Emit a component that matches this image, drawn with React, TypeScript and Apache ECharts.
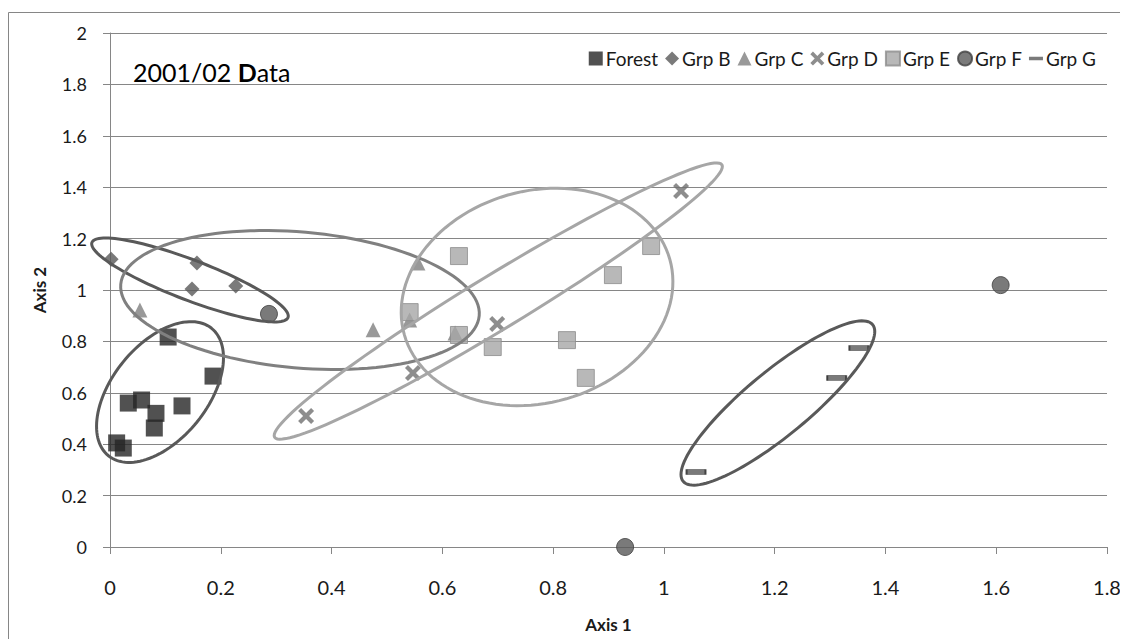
import React, { useEffect, useRef } from "react";
import * as echarts from "echarts";

// Ordination scores (Axis 1, Axis 2) per group
const forest = [
  [0.012, 0.405], [0.024, 0.385], [0.033, 0.56], [0.057, 0.572], [0.083, 0.52],
  [0.08, 0.463], [0.13, 0.549], [0.105, 0.817], [0.186, 0.665],
];
const grpB = [[0.002, 1.12], [0.157, 1.105], [0.148, 1.004], [0.227, 1.016]];
const grpC = [[0.054, 0.922], [0.475, 0.845], [0.541, 0.883], [0.556, 1.105], [0.623, 0.833]];
const grpD = [[0.354, 0.51], [0.547, 0.677], [0.699, 0.868], [1.031, 1.385]];
const grpE = [
  [0.63, 1.132], [0.541, 0.914], [0.63, 0.825], [0.691, 0.778],
  [0.825, 0.805], [0.859, 0.658], [0.908, 1.058], [0.977, 1.171],
];
const grpF = [[0.287, 0.907], [1.608, 1.019], [0.93, 0.0]];
const grpG = [[1.058, 0.292], [1.312, 0.658], [1.352, 0.774]];

// Group envelopes: centre (x, y) and two conjugate semi-diameters (ux, uy), (vx, vy) in axis units
const ellipseForest = [0.0903, 0.603, 0.0931, 0.2479, -0.0668, 0.1165];
const ellipseB = [0.1444, 1.039, 0.177, -0.146, 0.013, 0.073];
const ellipseC = [0.343, 0.961, 0.3236, -0.0611, 0.0107, 0.2634];
const ellipseD = [0.701, 0.957, 0.4038, 0.53, -0.0253, 0.0898];
const ellipseE = [0.771, 0.973, 0.2395, 0.1479, -0.0528, 0.3964];
const ellipseG = [1.2058, 0.5603, 0.171, 0.305, -0.0368, 0.0958];
const ellipseColors = ["#595959", "#595959", "#808080", "#a6a6a6", "#a6a6a6", "#595959"];

const xRange = [0, 1.8];
const yRange = [0, 2];
const tickStep = 0.2;

const FONT = "Lato, 'Open Sans', sans-serif";
const CROSS = "path://M0,3L3,0L8,5L13,0L16,3L11,8L16,13L13,16L8,11L3,16L0,13L5,8Z";
const DASH = "path://M0,0H20V5H0Z";

export default function App() {
  const ref = useRef<HTMLDivElement>(null);

  useEffect(() => {
    if (!ref.current) return;
    const chart = echarts.init(ref.current, undefined, { renderer: "svg" });

    const ellipses = [ellipseForest, ellipseB, ellipseC, ellipseD, ellipseE, ellipseG];

    const scatter = (name: string, data: number[][], extra: any) => ({
      name,
      type: "scatter",
      data,
      z: 3,
      ...extra,
    });

    chart.setOption({
      animation: false,
      backgroundColor: "#ffffff",
      title: {
        text: "2001/02 {b|D}ata",
        left: 120,
        top: 46,
        textStyle: {
          fontFamily: FONT,
          fontSize: 25,
          fontWeight: "normal",
          color: "#000",
          rich: { b: { fontFamily: FONT, fontSize: 25, fontWeight: "bold", color: "#000" } },
        },
      },
      legend: {
        right: 27,
        top: 36,
        itemWidth: 14,
        itemHeight: 14,
        itemGap: 7,
        textStyle: { fontFamily: FONT, fontSize: 19, color: "#1a1a1a", padding: [0, 0, 0, -2] },
        data: [
          { name: "Forest" },
          { name: "Grp B" },
          { name: "Grp C" },
          { name: "Grp D" },
          { name: "Grp E" },
          { name: "Grp F" },
          { name: "Grp G", icon: DASH, itemStyle: { borderWidth: 0 } },
        ],
      },
      graphic: [
        {
          type: "rect",
          shape: { x: 0.5, y: 4.5, width: 1300, height: 900 },
          style: { fill: "none", stroke: "#868686", lineWidth: 1 },
          silent: true,
        },
      ],
      grid: { left: 102, top: 25, right: 21, bottom: 92 },
      xAxis: {
        type: "value",
        min: xRange[0],
        max: xRange[1],
        interval: tickStep,
        name: "Axis 1",
        nameLocation: "middle",
        nameGap: 69,
        nameTextStyle: { fontFamily: FONT, fontSize: 17, fontWeight: "bold", color: "#1a1a1a" },
        axisLine: { show: true, lineStyle: { color: "#868686", width: 1 } },
        axisTick: { show: true, length: 7, lineStyle: { color: "#868686" } },
        axisLabel: { margin: 30, fontFamily: FONT, fontSize: 20, color: "#1a1a1a" },
        splitLine: { show: false },
      },
      yAxis: {
        type: "value",
        min: yRange[0],
        max: yRange[1],
        interval: tickStep,
        name: "Axis 2",
        nameLocation: "middle",
        nameGap: 62,
        nameTextStyle: { fontFamily: FONT, fontSize: 17, fontWeight: "bold", color: "#1a1a1a" },
        axisLine: { show: true, lineStyle: { color: "#868686", width: 1 } },
        axisTick: { show: true, length: 7, lineStyle: { color: "#868686" } },
        axisLabel: { margin: 23, fontFamily: FONT, fontSize: 18, color: "#1a1a1a" },
        splitLine: { show: true, lineStyle: { color: "#868686", width: 1 } },
      },
      series: [
        scatter("Forest", forest, {
          symbol: "rect",
          symbolSize: 17,
          itemStyle: { color: "#262626" },
        }),
        scatter("Grp B", grpB, {
          symbol: "diamond",
          symbolSize: 15,
          itemStyle: { color: "#595959" },
        }),
        scatter("Grp C", grpC, {
          symbol: "triangle",
          symbolSize: 15,
          itemStyle: { color: "#7f7f7f" },
        }),
        scatter("Grp D", grpD, {
          symbol: CROSS,
          symbolSize: 16,
          itemStyle: { color: "#707070" },
        }),
        scatter("Grp E", grpE, {
          symbol: "rect",
          symbolSize: 17,
          itemStyle: { color: "#a6a6a6", borderColor: "#8c8c8c", borderWidth: 1 },
        }),
        scatter("Grp F", grpF, {
          symbol: "circle",
          symbolSize: 17,
          itemStyle: { color: "#595959", borderColor: "#404040", borderWidth: 1 },
        }),
        scatter("Grp G", grpG, {
          symbol: DASH,
          symbolSize: [19, 5],
          symbolKeepAspect: false,
          itemStyle: { color: "#595959", borderColor: "#262626", borderWidth: 1 },
        }),
        {
          name: "envelopes",
          type: "custom",
          z: 4,
          silent: true,
          clip: false,
          encode: { x: 0, y: 1 },
          data: ellipses.map((e, i) => [...e, i]),
          renderItem: (_params: any, api: any) => {
            const cx = api.value(0), cy = api.value(1);
            const ux = api.value(2), uy = api.value(3);
            const vx = api.value(4), vy = api.value(5);
            const idx = api.value(6);
            const pts: number[][] = [];
            const n = 120;
            for (let k = 0; k < n; k++) {
              const t = (k / n) * Math.PI * 2;
              const c = Math.cos(t), s = Math.sin(t);
              pts.push(api.coord([cx + ux * c + vx * s, cy + uy * c + vy * s]));
            }
            return {
              type: "polygon",
              shape: { points: pts },
              style: { fill: "none", stroke: ellipseColors[idx], lineWidth: 3 },
            };
          },
        },
      ],
    });

    return () => chart.dispose();
  }, []);

  return <div ref={ref} style={{ width: 1120, height: 631 }} />;
}
